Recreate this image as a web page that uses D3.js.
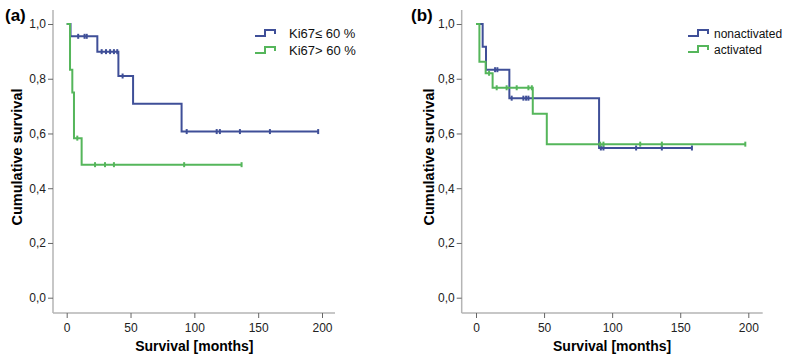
<!DOCTYPE html>
<html>
<head>
<meta charset="utf-8">
<script src="https://cdn.jsdelivr.net/npm/d3@7"></script>
<style>
  body { margin: 0; background: #fff; }
  svg { display: block; font-family: "Liberation Sans", Arial, sans-serif; }
  .tick text { fill: #222; font-size: 12px; }
  .tick line { stroke: #666; }
</style>
</head>
<body>
<div id="chart"></div>
<script>
// panel (a) Ki67
const aLowTimes = [0, 3, 24, 40.5, 52, 90];
const aLowSurv = [1, 0.955, 0.899, 0.81, 0.709, 0.607];
const aLowCens = [9, 14, 15.7, 27.4, 30.8, 34, 37, 39.6, 43.8, 94, 117.5, 120, 135.7, 159.2, 197];
const aHighTimes = [0, 2.6, 4.4, 5.7, 11.7];
const aHighSurv = [1, 0.833, 0.75, 0.583, 0.486];
const aHighCens = [8.3, 22.2, 30, 37, 92, 137];

// panel (b) activation
const bNonTimes = [0, 4.9, 7.35, 24.5, 90.4];
const bNonSurv = [1, 0.917, 0.833, 0.729, 0.547];
const bNonCens = [14, 15.7, 26.2, 34.8, 36.8, 38.5, 91.7, 93.6, 117.6, 136.5, 158.6];
const bActTimes = [0, 2.5, 7.1, 12.2, 41.7, 52];
const bActSurv = [1, 0.862, 0.82, 0.767, 0.672, 0.561];
const bActCens = [9.6, 15.2, 22.5, 29.9, 38.5, 41, 91.2, 93.6, 120.6, 136.5, 197.8];

const xTicks = [0, 50, 100, 150, 200];
const yTicks = [0, 0.2, 0.4, 0.6, 0.8, 1.0];

const blue = "#3f4f98";
const green = "#55b65b";

const svg = d3.select("#chart").append("svg")
  .attr("width", 787)
  .attr("height", 357);

function survAt(times, surv, t) {
  let v = surv[0];
  for (let i = 0; i < times.length; i++) {
    if (times[i] <= t) v = surv[i];
  }
  return v;
}

function panel(opts) {
  const x = d3.scaleLinear().domain([0, 200]).range([opts.x0, opts.x200]);
  const y = d3.scaleLinear().domain([0, 1]).range([297.7, 24]);
  const g = svg.append("g");

  // axes lines (grey L)
  g.append("line")
    .attr("x1", opts.axisX).attr("x2", opts.axisX)
    .attr("y1", 10).attr("y2", 313)
    .attr("stroke", "#b5b5b5").attr("stroke-width", 1.5);
  g.append("line")
    .attr("x1", opts.axisX).attr("x2", opts.axisEnd)
    .attr("y1", 313).attr("y2", 313)
    .attr("stroke", "#b5b5b5").attr("stroke-width", 1.5);

  const yAxis = g.append("g")
    .attr("transform", `translate(${opts.axisX},0)`)
    .call(d3.axisLeft(y).tickValues(yTicks).tickSize(5).tickPadding(2)
      .tickFormat(d => d3.format(".1f")(d).replace(".", ",")));
  yAxis.select(".domain").remove();

  const xAxis = g.append("g")
    .attr("transform", "translate(0,313)")
    .call(d3.axisBottom(x).tickValues(xTicks).tickSize(5).tickPadding(5));
  xAxis.select(".domain").remove();

  // titles
  g.append("text")
    .attr("transform", `translate(${opts.yTitleX},157) rotate(-90)`)
    .attr("text-anchor", "middle")
    .attr("font-size", 14.5).attr("font-weight", "bold")
    .text("Cumulative survival");
  g.append("text")
    .attr("x", x(100)).attr("y", 351)
    .attr("text-anchor", "middle")
    .attr("font-size", 14).attr("font-weight", "bold")
    .text("Survival [months]");
  g.append("text")
    .attr("x", opts.labelX).attr("y", 21)
    .attr("font-size", 17).attr("font-weight", "bold")
    .text(opts.label);

  const line = d3.line()
    .x(d => x(d[0])).y(d => y(d[1]))
    .curve(d3.curveStepAfter);

  opts.series.forEach(s => {
    const pts = s.times.map((t, i) => [t, s.surv[i]]);
    const last = d3.max(s.cens);
    pts.push([last, s.surv[s.surv.length - 1]]);
    g.append("path")
      .datum(pts)
      .attr("fill", "none")
      .attr("stroke", s.color)
      .attr("stroke-width", 2)
      .attr("d", line);
    g.selectAll(null)
      .data(s.cens)
      .enter()
      .append("line")
      .attr("x1", d => x(d)).attr("x2", d => x(d))
      .attr("y1", d => y(survAt(s.times, s.surv, d)) - 2.5)
      .attr("y2", d => y(survAt(s.times, s.surv, d)) + 2.5)
      .attr("stroke", s.color)
      .attr("stroke-width", 2);
  });

  // legend
  opts.series.forEach((s, i) => {
    const ly = opts.legY + i * opts.legStep;
    const lx = opts.legX;
    g.append("path")
      .attr("d", `M${lx},${ly + 3} H${lx + 10} V${ly - 3} H${lx + 20} V${ly + 1}`)
      .attr("fill", "none")
      .attr("stroke", s.color)
      .attr("stroke-width", 2);
    g.append("text")
      .attr("x", lx + opts.legTextDx).attr("y", ly + 5)
      .attr("font-size", opts.legFont)
      .attr("fill", "#111")
      .text(s.name);
  });
}

panel({
  x0: 66.7, x200: 322, axisX: 53, axisEnd: 335,
  yTitleX: 21.5, labelX: 5, label: "(a)",
  legX: 255, legY: 33, legStep: 17, legTextDx: 34, legFont: 13,
  series: [
    { name: "Ki67\u2264 60 %", times: aLowTimes, surv: aLowSurv, cens: aLowCens, color: blue },
    { name: "Ki67> 60 %", times: aHighTimes, surv: aHighSurv, cens: aHighCens, color: green }
  ]
});

panel({
  x0: 476, x200: 748.3, axisX: 461.7, axisEnd: 762.7,
  yTitleX: 434, labelX: 411, label: "(b)",
  legX: 688, legY: 33, legStep: 16, legTextDx: 26, legFont: 12,
  series: [
    { name: "nonactivated", times: bNonTimes, surv: bNonSurv, cens: bNonCens, color: blue },
    { name: "activated", times: bActTimes, surv: bActSurv, cens: bActCens, color: green }
  ]
});
</script>
</body>
</html>
